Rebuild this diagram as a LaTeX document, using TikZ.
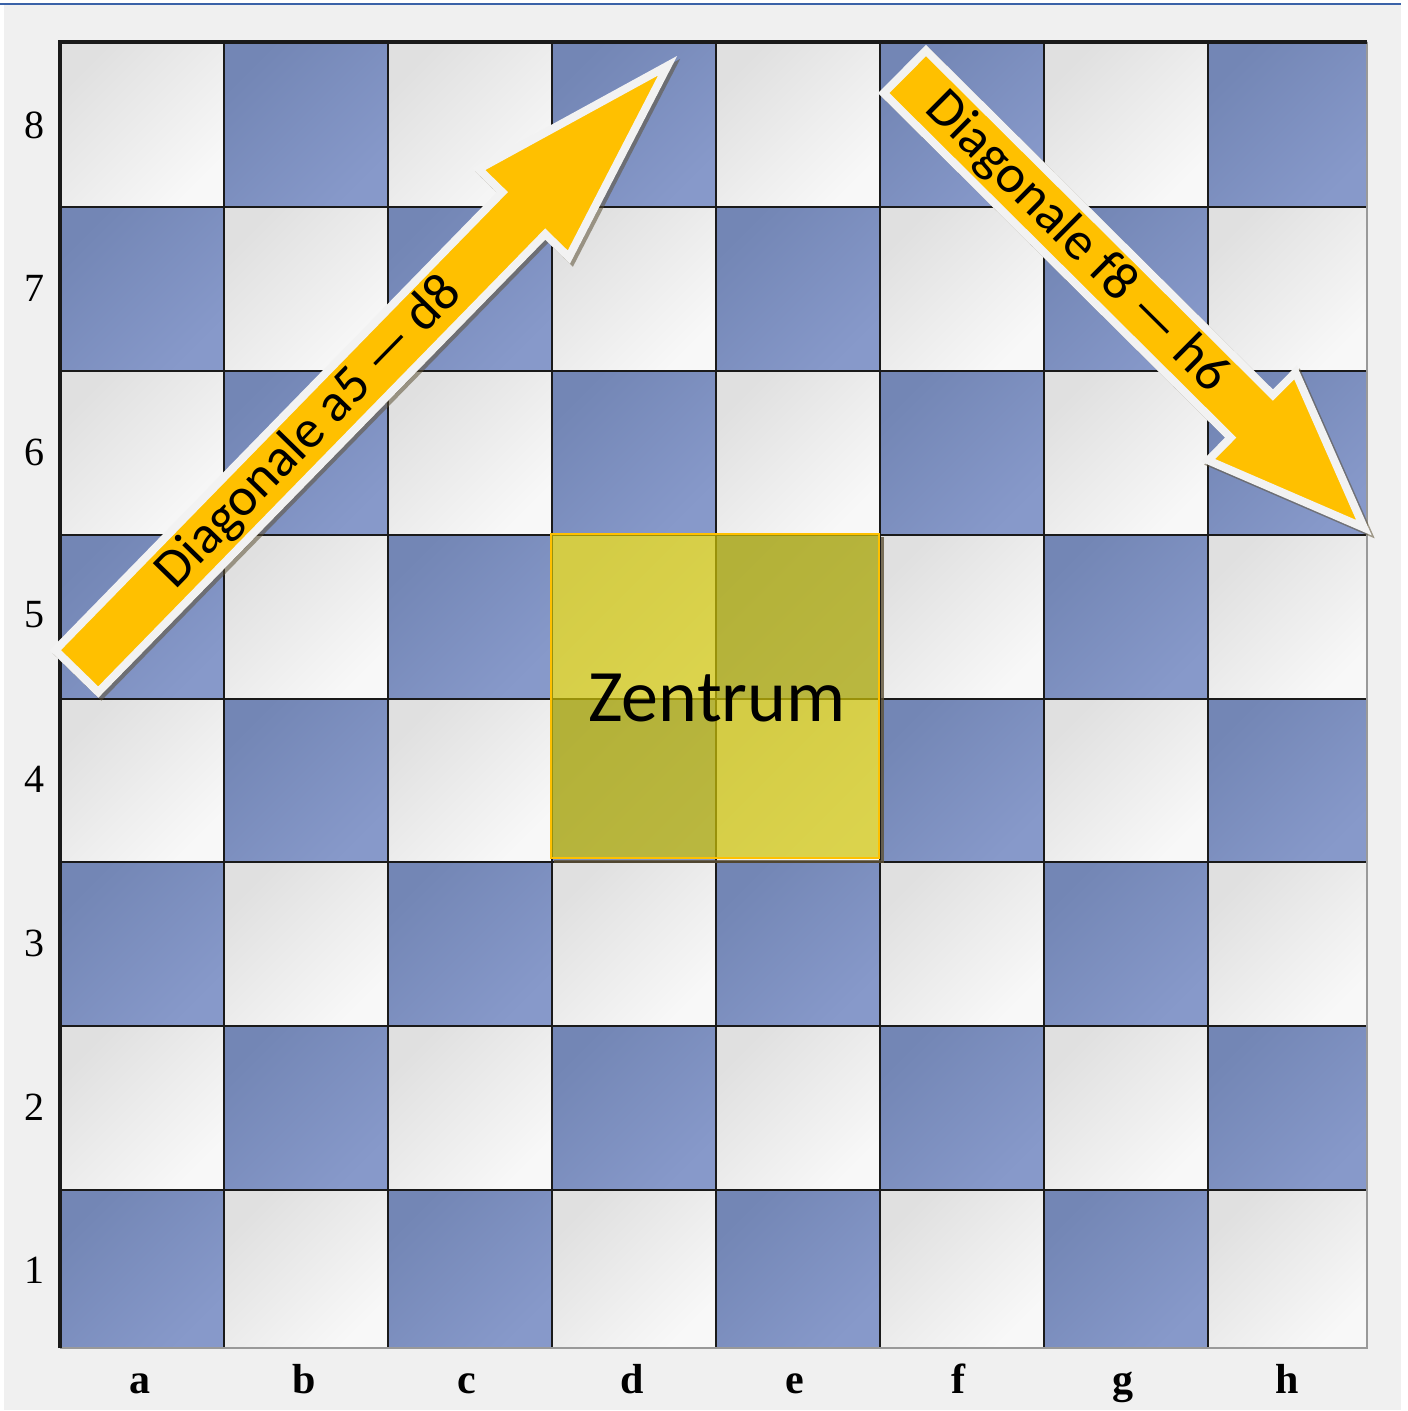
\documentclass[tikz,border=0pt]{standalone}
\usepackage{fontspec}
\setmainfont{Liberation Serif}
\newfontfamily\calfont{Carlito}
\definecolor{bggray}{HTML}{F0F0F0}
\definecolor{topblue}{HTML}{3A62A8}
\definecolor{lightA}{HTML}{E0E0E0}
\definecolor{lightB}{HTML}{F8F8F8}
\definecolor{darkA}{HTML}{7386B5}
\definecolor{darkB}{HTML}{8799CA}
\definecolor{gridcol}{HTML}{1A1A1A}
\definecolor{arrowyellow}{HTML}{FFC000}
\definecolor{arrowrim}{HTML}{F2F2F2}
\definecolor{shadowcol}{HTML}{5E5236}
\definecolor{zfill}{HTML}{CFC404}
\definecolor{zrim}{HTML}{FFC000}
\begin{document}
\begin{tikzpicture}[x=0.5pt,y=-0.5pt,
  lightsq/.style={top color=lightA, bottom color=lightB, shading angle=45},
  darksq/.style={top color=darkA, bottom color=darkB, shading angle=45},
  gridline/.style={draw=gridcol, line width=1pt},
  ranklbl/.style={font=\fontsize{20}{21}\selectfont, text=black, inner sep=0pt},
  filelbl/.style={font=\bfseries\fontsize{21}{22}\selectfont, text=black, inner sep=0pt},
  arrowbody/.style={fill=arrowyellow, draw=arrowrim, line width=4pt, line join=miter, miter limit=20},
  arrowshadow/.style={fill=shadowcol, draw=shadowcol, line width=4pt, line join=miter, miter limit=20, opacity=0.55},
  diaglbl/.style={font=\calfont\fontsize{27}{29}\selectfont, text=black, inner sep=0pt}
]
\useasboundingbox (0,0) rectangle (1407,1411);
\fill[white] (0,0) rectangle (1407,1411);
\fill[bggray] (4,5) rectangle (1401,1410);
\draw[topblue, line width=1pt] (0,4) -- (1401,4);

% squares
\foreach \i in {0,...,7}{
  \foreach \j in {0,...,7}{
    \pgfmathsetmacro\xa{{60,224,388,552,716,880,1044,1208,1367}[\i]}
    \pgfmathsetmacro\xb{{60,224,388,552,716,880,1044,1208,1367}[\i+1]}
    \pgfmathsetmacro\ya{{42,207,371,535,699,862,1026,1190,1348}[\j]}
    \pgfmathsetmacro\yb{{42,207,371,535,699,862,1026,1190,1348}[\j+1]}
    \pgfmathtruncatemacro\sqpar{mod(\i+\j,2)}
    \ifnum\sqpar=0
      \shade[lightsq] (\xa,\ya) rectangle (\xb,\yb);
    \else
      \shade[darksq] (\xa,\ya) rectangle (\xb,\yb);
    \fi
  }
}
% grid
\foreach \x in {224,388,552,716,880,1044,1208}{
  \draw[gridline] (\x,42) -- (\x,1348);
}
\foreach \y in {207,371,535,699,862,1026,1190}{
  \draw[gridline] (60,\y) -- (1367,\y);
}
% frame
\draw[gray!80, line width=1pt] (1367,42) -- (1367,1348) -- (60,1348);
\draw[gridcol, line width=1.6pt] (60,1348) -- (60,42) -- (1367,42);

% rank labels
\foreach \r/\y in {8/125,7/288,6/452,5/615,4/779,3/943,2/1107,1/1270}{
  \node[ranklbl] (rank\r) at (35,\y) {\r};
}
% file labels
\foreach \f/\x in {a/140,b/304,c/467,d/632,e/795,f/958,g/1123,h/1287}{
  \node[filelbl, anchor=base] (file\f) at (\x,1393) {\f};
}

% centre
\draw[shadowcol, line width=1.5pt, opacity=0.8] (554,861) -- (882,861) -- (882,537);
\fill[zfill, opacity=0.7] (551,534) rectangle (879,858);
\draw[zrim, line width=1.4pt] (551,534) rectangle (879,858);
\node[font=\calfont\fontsize{37}{40}\selectfont, inner sep=0pt] (zentrum) at (717,698) {Zentrum};

% arrow a5 - d8
\begin{scope}[shift={(77,677)}, rotate=45.7]
  \path[arrowshadow] (4,30) -- (644,30) -- (644,63) -- (850,0) -- (644,-63) -- (644,-30) -- (4,-30) -- cycle;
\end{scope}
\begin{scope}[shift={(74,674)}, rotate=45.7]
  \path[arrowbody] (4,30) -- (644,30) -- (644,63) -- (850,0) -- (644,-63) -- (644,-30) -- (4,-30) -- cycle;
  \node[diaglbl, rotate=45.7] (diagA) at (337,0) {Diagonale a5 — d8};
\end{scope}

% arrow f8 - h6
\begin{scope}[shift={(905,72)}, rotate=-44.8]
  \path[arrowshadow] (4,30) -- (493,30) -- (493,62) -- (651,0) -- (493,-62) -- (493,-30) -- (4,-30) -- cycle;
\end{scope}
\begin{scope}[shift={(902,69)}, rotate=-44.8]
  \path[arrowbody] (4,30) -- (493,30) -- (493,62) -- (651,0) -- (493,-62) -- (493,-30) -- (4,-30) -- cycle;
  \node[diaglbl, rotate=-44.8] (diagB) at (246,0) {Diagonale f8 — h6};
\end{scope}
\end{tikzpicture}
\end{document}
